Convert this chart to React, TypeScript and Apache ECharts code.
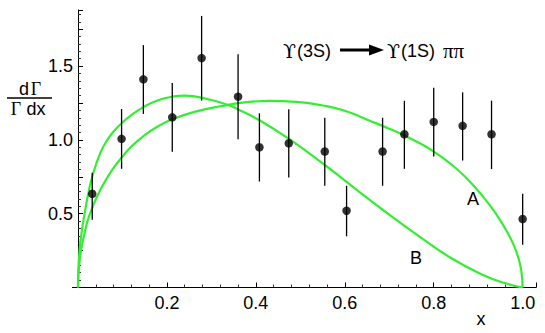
import React, { useEffect, useRef } from "react";
import * as echarts from "echarts";

// Measured data points (x, central value, error bar low / high)
const pointX = [0.032, 0.098, 0.147, 0.212, 0.278, 0.360, 0.408, 0.474, 0.555, 0.604, 0.685, 0.734, 0.800, 0.865, 0.930, 1.0];
const pointY = [0.635, 1.007, 1.410, 1.153, 1.554, 1.293, 0.950, 0.977, 0.921, 0.520, 0.921, 1.038, 1.122, 1.095, 1.038, 0.464];
const errLo = [0.459, 0.804, 1.176, 0.919, 1.266, 1.005, 0.718, 0.745, 0.689, 0.347, 0.689, 0.804, 0.887, 0.860, 0.802, 0.289];
const errHi = [0.777, 1.209, 1.642, 1.385, 1.840, 1.580, 1.180, 1.207, 1.150, 0.689, 1.150, 1.265, 1.353, 1.322, 1.266, 0.635];

// Curve A
const curveAX = [0, 0.001, 0.004, 0.008, 0.012, 0.018, 0.023, 0.034, 0.05, 0.066, 0.08, 0.098, 0.12, 0.147, 0.18, 0.212, 0.262, 0.32, 0.38, 0.431, 0.49, 0.551, 0.6, 0.656, 0.70, 0.734, 0.77, 0.80, 0.84, 0.873, 0.91, 0.94, 0.963, 0.98, 0.99, 0.997, 1.0];
const curveAY = [0, 0.09, 0.19, 0.27, 0.33, 0.41, 0.465, 0.555, 0.66, 0.745, 0.81, 0.88, 0.955, 1.025, 1.092, 1.14, 1.19, 1.228, 1.256, 1.264, 1.258, 1.233, 1.197, 1.13, 1.076, 1.03, 0.975, 0.921, 0.833, 0.743, 0.619, 0.499, 0.388, 0.287, 0.204, 0.113, 0];

// Curve B
const curveBX = [0, 0.001, 0.004, 0.008, 0.012, 0.018, 0.023, 0.032, 0.05, 0.066, 0.08, 0.098, 0.12, 0.147, 0.18, 0.212, 0.24, 0.262, 0.3, 0.334, 0.358, 0.407, 0.473, 0.553, 0.604, 0.634, 0.686, 0.761, 0.836, 0.911, 0.96, 1.0];
const curveBY = [0, 0.13, 0.27, 0.37, 0.45, 0.555, 0.635, 0.75, 0.91, 1.0, 1.057, 1.113, 1.168, 1.222, 1.268, 1.293, 1.3, 1.295, 1.27, 1.24, 1.21, 1.135, 1.01, 0.835, 0.715, 0.645, 0.525, 0.36, 0.205, 0.085, 0.03, 0];

const xTicks = [0.2, 0.4, 0.6, 0.8, 1.0];
const yTicks = [0.5, 1.0, 1.5];

const FONT = "'Liberation Sans', Arial, 'DejaVu Sans', sans-serif";
const SERIF = "'Liberation Serif', 'DejaVu Serif', serif";
const GREEN = "#33ee33";

function isTick(v: number, ticks: number[]) {
  return ticks.some((t) => Math.abs(t - v) < 1e-6);
}

function txt(x: number, y: number, text: string, font: string, align = "center") {
  return {
    type: "text",
    x,
    y,
    style: { text, font, fill: "#000", textAlign: align, textVerticalAlign: "middle", align, verticalAlign: "middle" },
  };
}

export default function App() {
  const ref = useRef<HTMLDivElement>(null);
  useEffect(() => {
    if (!ref.current) return;
    const chart = echarts.init(ref.current, undefined, { renderer: "svg" });
    const curveStyle = {
      type: "line",
      showSymbol: false,
      smooth: 0.5,
      lineStyle: { color: GREEN, width: 2.2 },
      z: 2,
    };
    const option: any = {
      animation: false,
      backgroundColor: "#fff",
      grid: { left: 78, right: 9, top: 10, bottom: 45.5, containLabel: false },
      xAxis: {
        type: "value",
        min: 0,
        max: 1.03,
        interval: 0.2,
        axisLine: { show: true, onZero: false, lineStyle: { color: "#000", width: 1 } },
        axisTick: { show: true, inside: true, length: 5, lineStyle: { color: "#000" } },
        minorTick: { show: true, splitNumber: 5, length: 3, lineStyle: { color: "#333" } },
        splitLine: { show: false },
        axisLabel: {
          margin: 6,
          color: "#000",
          fontFamily: FONT,
          fontSize: 18,
          formatter: (v: number) => (isTick(v, xTicks) ? v.toFixed(1) : ""),
        },
      },
      yAxis: {
        type: "value",
        min: 0,
        max: 1.88,
        interval: 0.25,
        axisLine: { show: true, onZero: false, lineStyle: { color: "#000", width: 1 } },
        axisTick: { show: true, inside: true, length: 5, lineStyle: { color: "#000" } },
        minorTick: { show: true, splitNumber: 5, length: 3, lineStyle: { color: "#333" } },
        splitLine: { show: false },
        axisLabel: {
          margin: 5,
          color: "#000",
          fontFamily: FONT,
          fontSize: 18,
          formatter: (v: number) => (isTick(v, yTicks) ? v.toFixed(1) : ""),
        },
      },
      series: [
        { ...curveStyle, data: curveAX.map((x, i) => [x, curveAY[i]]) },
        { ...curveStyle, data: curveBX.map((x, i) => [x, curveBY[i]]) },
        {
          type: "custom",
          data: pointX.map((x, i) => [x, errLo[i], errHi[i]]),
          encode: { x: 0, y: [1, 2] },
          renderItem: (params: any, api: any) => {
            const x = api.value(0);
            const p1 = api.coord([x, api.value(1)]);
            const p2 = api.coord([x, api.value(2)]);
            return {
              type: "line",
              shape: { x1: p1[0], y1: p1[1], x2: p2[0], y2: p2[1] },
              style: { stroke: "#000", lineWidth: 1.3 },
            };
          },
          z: 3,
        },
        {
          type: "scatter",
          data: pointX.map((x, i) => [x, pointY[i]]),
          symbol: "circle",
          symbolSize: 8.5,
          itemStyle: { color: "#000" },
          z: 4,
        },
      ],
      graphic: [
        // small extension of the x axis line left of the y axis
        { type: "line", shape: { x1: 72, y1: 287.5, x2: 78, y2: 287.5 }, style: { stroke: "#000", lineWidth: 1 } },
        // y-axis label: dΓ / Γ dx
        txt(24, 88.5, "d", `18px ${FONT}`),
        txt(36, 88.5, "Γ", `18px ${SERIF}`),
        { type: "line", shape: { x1: 7, y1: 98, x2: 52, y2: 98 }, style: { stroke: "#000", lineWidth: 1.5 } },
        txt(16, 108.5, "Γ", `18px ${SERIF}`),
        txt(36, 108.5, "dx", `18px ${FONT}`),
        // x axis name
        txt(481, 319, "x", `18px ${FONT}`),
        // curve labels
        txt(473, 199, "A", `18px ${FONT}`),
        txt(416, 258, "B", `18px ${FONT}`),
        // title: ϒ(3S) → ϒ(1S) ππ
        txt(283, 51, "ϒ", `19px 'DejaVu Serif', ${SERIF}`, "left"),
        txt(297, 51, "(3S)", `18px ${FONT}`, "left"),
        { type: "line", shape: { x1: 340, y1: 50, x2: 372, y2: 50 }, style: { stroke: "#000", lineWidth: 3 } },
        { type: "polygon", shape: { points: [[369, 44.5], [384, 50], [369, 55.5]] }, style: { fill: "#000" } },
        txt(387, 51, "ϒ", `19px 'DejaVu Serif', ${SERIF}`, "left"),
        txt(401, 51, "(1S)", `18px ${FONT}`, "left"),
        txt(443, 51, "ππ", `21px ${SERIF}`, "left"),
      ],
    };
    chart.setOption(option);
    return () => chart.dispose();
  }, []);
  return <div ref={ref} style={{ position: "fixed", left: 0, top: 0, width: 545, height: 333 }} />;
}
